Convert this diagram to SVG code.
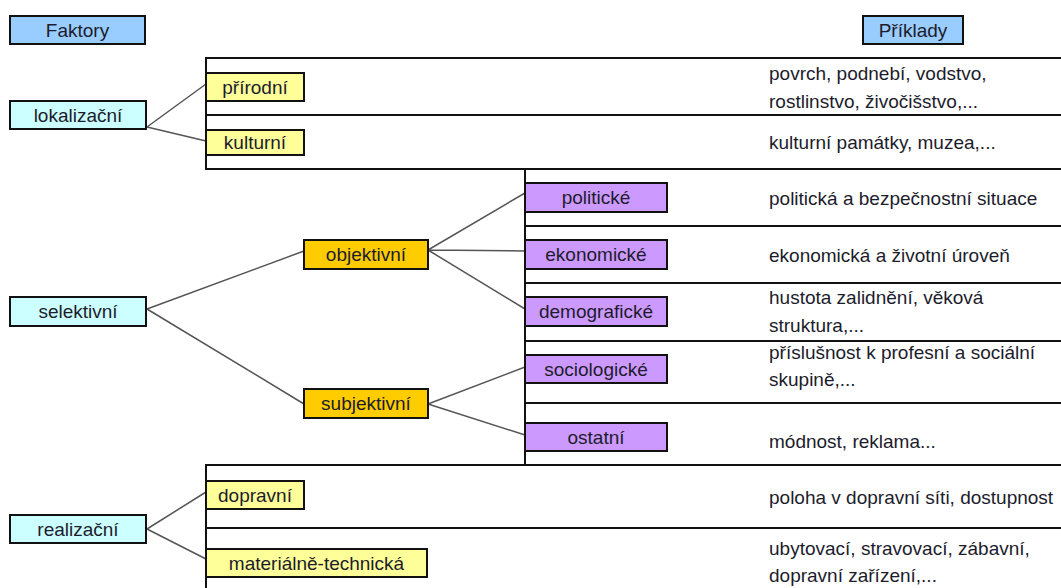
<svg xmlns="http://www.w3.org/2000/svg" width="1061" height="588" viewBox="0 0 1061 588">
<style>
text{font-family:"Liberation Sans",Arial,sans-serif;font-size:19px;fill:#1c1c2c}
.lbl{text-anchor:middle;dominant-baseline:central}
.ex{dominant-baseline:central}
.box{stroke:#111;stroke-width:2}
.hdr{fill:#99ccff}
.f1{fill:#ccffff}
.f2{fill:#ffff99}
.f3{fill:#ffcc00}
.f4{fill:#cc99ff}
.frame{stroke:#111;stroke-width:2;fill:none}
.con{stroke:#555;stroke-width:1.5;fill:none}
</style>
<rect width="1061" height="588" fill="#fff"/>
<g id="frames">
<path class="frame" d="M1061 58H206V169H1061M206 115H1061"/>
<path class="frame" d="M525 169V465M525 226H1061M525 283H1061M525 341H1061M525 403H1061"/>
<path class="frame" d="M1061 465H206V588M206 528H1061"/>
</g>
<g id="connectors">
<path class="con" d="M147 127L206 84M147 127L206 141"/>
<path class="con" d="M147 309L304 251M147 309L304 404"/>
<path class="con" d="M428 250L525 193M428 250L525 251M428 250L525 309"/>
<path class="con" d="M428 404L525 367M428 404L525 435"/>
<path class="con" d="M147 529L206 492M147 529L206 559"/>
</g>
<g id="faktory"><rect class="box hdr" x="10" y="16" width="135" height="28"/><text class="lbl" x="77.5" y="30">Faktory</text></g>
<g id="priklady"><rect class="box hdr" x="863" y="16" width="100" height="28"/><text class="lbl" x="913" y="30">Příklady</text></g>
<g id="lokalizacni"><rect class="box f1" x="10" y="101" width="136" height="28"/><text class="lbl" x="78" y="115">lokalizační</text></g>
<g id="selektivni"><rect class="box f1" x="10" y="297" width="136" height="29"/><text class="lbl" x="78" y="311.5">selektivní</text></g>
<g id="realizacni"><rect class="box f1" x="10" y="515" width="136" height="28"/><text class="lbl" x="78" y="529">realizační</text></g>
<g id="prirodni"><rect class="box f2" x="206" y="73" width="98" height="28"/><text class="lbl" x="255" y="87">přírodní</text></g>
<g id="kulturni"><rect class="box f2" x="206" y="130" width="98" height="25"/><text class="lbl" x="255" y="142.5">kulturní</text></g>
<g id="dopravni"><rect class="box f2" x="206" y="481" width="98" height="28"/><text class="lbl" x="255" y="495">dopravní</text></g>
<g id="materialne"><rect class="box f2" x="206" y="549" width="221" height="28"/><text class="lbl" x="316.5" y="563">materiálně-technická</text></g>
<g id="objektivni"><rect class="box f3" x="304" y="240" width="124" height="29"/><text class="lbl" x="366" y="254.5">objektivní</text></g>
<g id="subjektivni"><rect class="box f3" x="304" y="389" width="124" height="29"/><text class="lbl" x="366" y="403.5">subjektivní</text></g>
<g id="politicke"><rect class="box f4" x="525" y="183" width="142" height="29"/><text class="lbl" x="596" y="197.5">politické</text></g>
<g id="ekonomicke"><rect class="box f4" x="525" y="240" width="142" height="29"/><text class="lbl" x="596" y="254.5">ekonomické</text></g>
<g id="demograficke"><rect class="box f4" x="525" y="297" width="142" height="29"/><text class="lbl" x="596" y="311.5">demografické</text></g>
<g id="sociologicke"><rect class="box f4" x="525" y="355" width="142" height="28"/><text class="lbl" x="596" y="369">sociologické</text></g>
<g id="ostatni"><rect class="box f4" x="525" y="423" width="142" height="28"/><text class="lbl" x="596" y="437">ostatní</text></g>
<g id="examples">
<text class="ex" x="769" y="73">povrch, podnebí, vodstvo,</text>
<text class="ex" x="769" y="101">rostlinstvo, živočišstvo,...</text>
<text class="ex" x="769" y="142">kulturní památky, muzea,...</text>
<text class="ex" x="769" y="198">politická a bezpečnostní situace</text>
<text class="ex" x="769" y="255">ekonomická a životní úroveň</text>
<text class="ex" x="769" y="297">hustota zalidnění, věková</text>
<text class="ex" x="769" y="325">struktura,...</text>
<text class="ex" x="769" y="352">příslušnost k profesní a sociální</text>
<text class="ex" x="769" y="379">skupině,...</text>
<text class="ex" x="769" y="441">módnost, reklama...</text>
<text class="ex" x="769" y="497">poloha v dopravní síti, dostupnost</text>
<text class="ex" x="769" y="548">ubytovací, stravovací, zábavní,</text>
<text class="ex" x="769" y="575">dopravní zařízení,...</text>
</g>
</svg>
